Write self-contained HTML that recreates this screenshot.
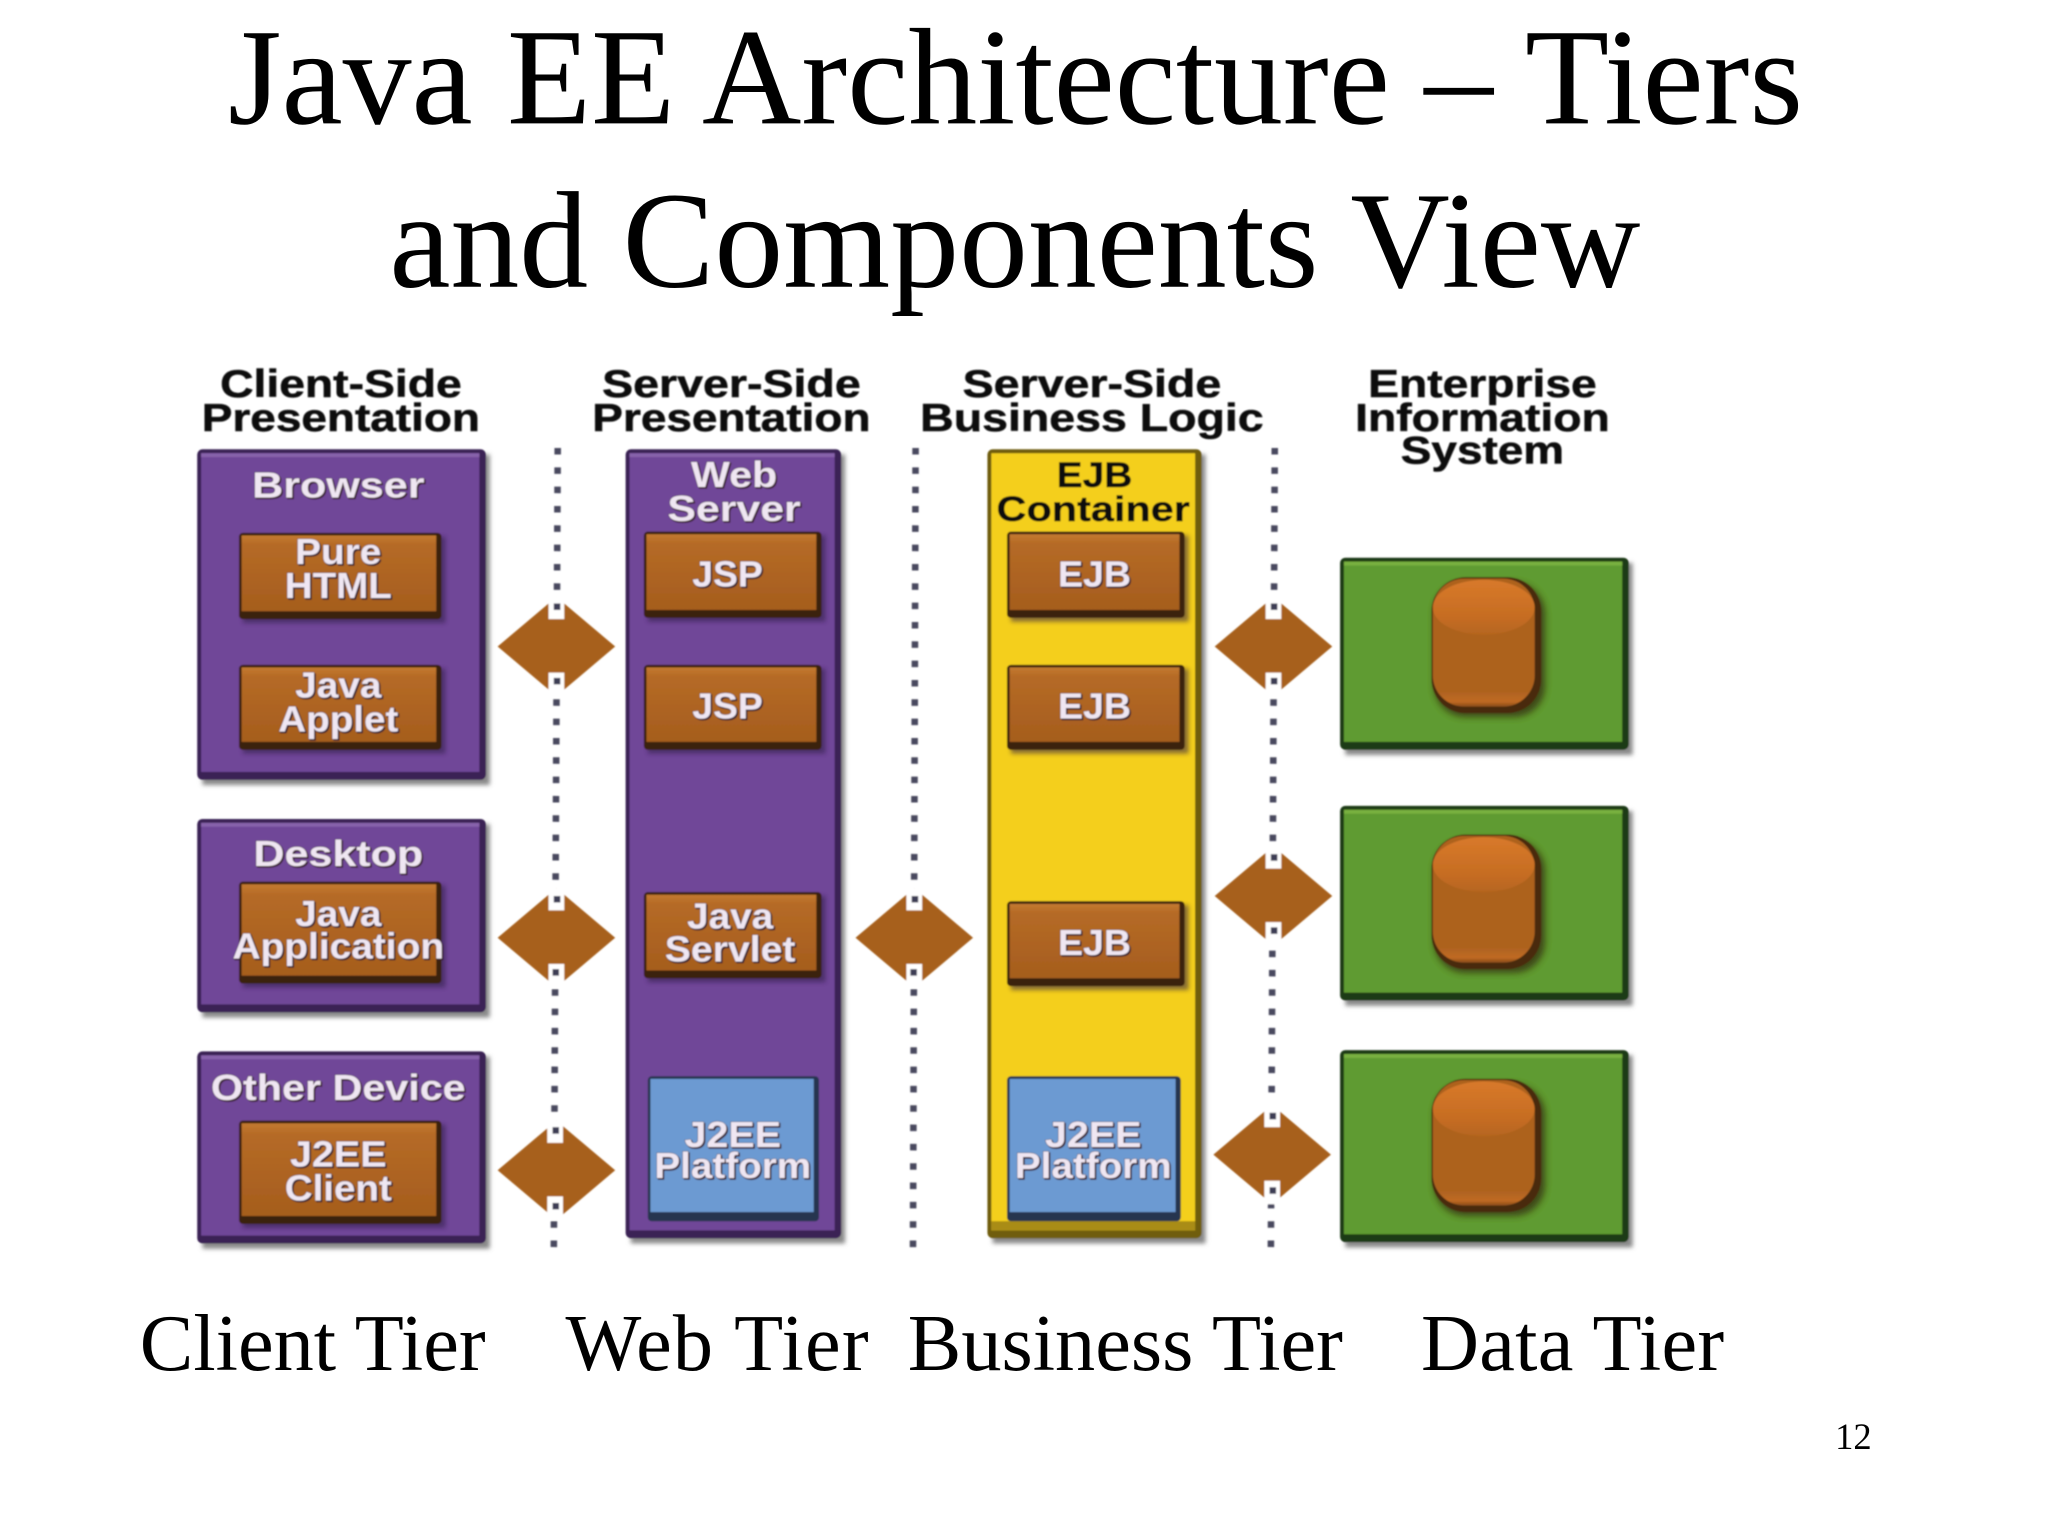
<!DOCTYPE html>
<html><head><meta charset="utf-8"><style>
html,body{margin:0;padding:0;background:#fff}
svg{display:block}
.t{font-family:"Liberation Serif",serif;fill:#000}
.s{font-family:"Liberation Sans",sans-serif;font-weight:bold;text-anchor:middle;font-size:28px}
.h{fill:#111;font-size:30px;stroke:#111;stroke-width:.4px}
.l{fill:#efe6f2;stroke:#3a2a30;stroke-width:.5px;paint-order:stroke;filter:drop-shadow(1px 1px 0 #3a2030)}
.k{fill:#111;font-size:27px;stroke:#111;stroke-width:.3px}
</style></head><body>
<svg width="2048" height="1536" viewBox="0 0 1568 1176" preserveAspectRatio="none" xmlns="http://www.w3.org/2000/svg">
<defs>
<filter id="b" x="-5%" y="-5%" width="110%" height="110%"><feGaussianBlur stdDeviation="0.7"/></filter>
<filter id="sh" x="-10%" y="-10%" width="120%" height="120%"><feGaussianBlur stdDeviation="1.6"/></filter>
<filter id="sf" x="-10%" y="-10%" width="120%" height="120%"><feGaussianBlur stdDeviation="2.5"/></filter>
<linearGradient id="bt" x1="0" x2="0" y1="0" y2="1"><stop offset="0" stop-color="#c47a30"/><stop offset=".12" stop-color="#b56a26"/><stop offset="1" stop-color="#a55d1d"/></linearGradient>
<linearGradient id="cy" x1="0" x2="0" y1="0" y2="1"><stop offset="0" stop-color="#ad621f"/><stop offset=".88" stop-color="#ad621f"/><stop offset=".96" stop-color="#c06a22"/><stop offset="1" stop-color="#8a4c18"/></linearGradient>
<linearGradient id="cap" x1="0" x2="0" y1="0" y2="1"><stop offset="0" stop-color="#d8792a"/><stop offset=".7" stop-color="#c56c22"/><stop offset="1" stop-color="#b5651f"/></linearGradient>
</defs>
<rect width="1568" height="1176" fill="#fff"/>
<text class="t" x="777.5" y="94.5" font-size="105.4" text-anchor="middle">Java EE Architecture – Tiers</text>
<text class="t" x="777" y="219.5" font-size="105.4" text-anchor="middle">and Components View</text>

<g filter="url(#b)">
<!-- shadows -->
<g fill="#888" filter="url(#sh)">
<rect x="155" y="348" width="220" height="253"/><rect x="155" y="631" width="220" height="148"/><rect x="155" y="809" width="220" height="147"/>
<rect x="483" y="348" width="164" height="604"/><rect x="760" y="348" width="163" height="604"/>
<rect x="1030" y="431" width="220" height="147"/><rect x="1030" y="621" width="220" height="149"/><rect x="1030" y="808" width="220" height="147"/>
</g>
<!-- purple -->
<g fill="#3a2355">
<rect x="151" y="344" width="221" height="253" rx="4"/><rect x="151" y="627" width="221" height="148" rx="4"/><rect x="151" y="805" width="221" height="147" rx="4"/><rect x="479" y="344" width="165" height="604" rx="4"/>
</g>
<g fill="#704698">
<rect x="154" y="347" width="213" height="244"/><rect x="154" y="630" width="213" height="139"/><rect x="154" y="808" width="213" height="138"/><rect x="482" y="347" width="157" height="595"/>
</g>
<g fill="#8762aa">
<rect x="154" y="347" width="213" height="3"/><rect x="154" y="630" width="213" height="3"/><rect x="154" y="808" width="213" height="3"/><rect x="482" y="347" width="157" height="3"/>
</g>
<!-- yellow -->
<rect x="756" y="344" width="164" height="604" rx="4" fill="#6f5d10"/>
<rect x="759" y="347" width="156" height="595" fill="#f4cf1b"/>
<rect x="759" y="935" width="156" height="7" fill="#a98c14"/>
<!-- green -->
<g fill="#1f3a12">
<rect x="1026" y="427" width="221" height="147" rx="4"/><rect x="1026" y="617" width="221" height="149" rx="4"/><rect x="1026" y="804" width="221" height="147" rx="4"/>
</g>
<g fill="#5f9b30">
<rect x="1029" y="430" width="213" height="138"/><rect x="1029" y="620" width="213" height="140"/><rect x="1029" y="807" width="213" height="138"/>
</g>
<g fill="#78b040">
<rect x="1029" y="430" width="213" height="3"/><rect x="1029" y="620" width="213" height="3"/><rect x="1029" y="807" width="213" height="3"/>
</g>
<!-- button shadow -->
<g fill="#2e1c45" opacity=".55" filter="url(#sh)">
<rect x="186" y="411" width="155" height="66"/><rect x="186" y="512" width="155" height="65"/><rect x="186" y="678" width="155" height="78"/><rect x="186" y="861" width="155" height="79"/>
<rect x="496" y="410" width="136" height="66"/><rect x="496" y="512" width="136" height="65"/><rect x="496" y="686" width="136" height="66"/>
<rect x="774" y="410" width="136" height="66"/><rect x="774" y="512" width="136" height="65"/><rect x="774" y="693" width="136" height="65"/>
</g>
<!-- orange buttons -->
<g fill="#3b2010">
<rect x="183" y="408" width="155" height="66" rx="3"/><rect x="183" y="509" width="155" height="65" rx="3"/><rect x="183" y="675" width="155" height="78" rx="3"/><rect x="183" y="858" width="155" height="79" rx="3"/>
<rect x="493" y="407" width="136" height="66" rx="3"/><rect x="493" y="509" width="136" height="65" rx="3"/><rect x="493" y="683" width="136" height="66" rx="3"/>
<rect x="771" y="407" width="136" height="66" rx="3"/><rect x="771" y="509" width="136" height="65" rx="3"/><rect x="771" y="690" width="136" height="65" rx="3"/>
</g>
<g fill="url(#bt)">
<rect x="185" y="410" width="149" height="58"/><rect x="185" y="511" width="149" height="57"/><rect x="185" y="677" width="149" height="70"/><rect x="185" y="860" width="149" height="71"/>
<rect x="495" y="409" width="130" height="58"/><rect x="495" y="511" width="130" height="57"/><rect x="495" y="685" width="130" height="58"/>
<rect x="773" y="409" width="130" height="58"/><rect x="773" y="511" width="130" height="57"/><rect x="773" y="692" width="130" height="57"/>
</g>
<!-- blue -->
<g fill="#26354f">
<rect x="496" y="824" width="131" height="111" rx="3"/><rect x="771" y="824" width="133" height="111" rx="3"/>
</g>
<g fill="#6c9ad2">
<rect x="498" y="826" width="125" height="102"/><rect x="773" y="826" width="127" height="102"/>
</g>
<!-- cylinders -->
<g fill="#33250d" opacity=".7" filter="url(#sf)">
<rect x="1098" y="446" width="85" height="103" rx="24"/><rect x="1098" y="643" width="85" height="102" rx="24"/><rect x="1098" y="830" width="85" height="101" rx="24"/>
</g>
<g fill="#4a2a10">
<rect x="1096" y="442" width="84" height="104" rx="26"/><rect x="1096" y="639" width="84" height="103" rx="26"/><rect x="1096" y="826" width="84" height="102" rx="26"/>
</g>
<g fill="url(#cy)">
<rect x="1097" y="443" width="78" height="98" rx="24"/><rect x="1097" y="640" width="78" height="97" rx="24"/><rect x="1097" y="827" width="78" height="96" rx="24"/>
</g>
<g fill="url(#cap)">
<ellipse cx="1136" cy="465" rx="39" ry="21"/><ellipse cx="1136" cy="662" rx="39" ry="21"/><ellipse cx="1136" cy="849" rx="39" ry="21"/>
</g>
<!-- dotted lines -->
<g stroke="#4a4a5e" stroke-width="5" stroke-dasharray="5 9.8" fill="none">
<line x1="427" y1="343" x2="424" y2="960"/><line x1="701" y1="343" x2="699" y2="960"/><line x1="976" y1="343" x2="973" y2="960"/>
</g>
<!-- diamonds -->
<g fill="#a7611f">
<polygon points="381,495 426,457 471,495 426,533"/><polygon points="381,718 426,680 471,718 426,756"/><polygon points="381,896 426,858 471,896 426,934"/>
<polygon points="655,718 700,680 745,718 700,756"/>
<polygon points="930,495 975,457 1020,495 975,533"/><polygon points="930,686 975,648 1020,686 975,724"/><polygon points="929,884 974,846 1019,884 974,922"/>
</g>
<g fill="#fff">
<rect x="420" y="457" width="12" height="17"/><rect x="420" y="515" width="12" height="18"/><rect x="420" y="680" width="12" height="17"/><rect x="420" y="738" width="12" height="18"/><rect x="419" y="858" width="12" height="17"/><rect x="419" y="916" width="12" height="18"/>
<rect x="694" y="680" width="12" height="17"/><rect x="694" y="738" width="12" height="18"/>
<rect x="969" y="457" width="12" height="17"/><rect x="969" y="515" width="12" height="18"/><rect x="969" y="648" width="12" height="17"/><rect x="969" y="706" width="12" height="18"/><rect x="968" y="846" width="12" height="17"/><rect x="968" y="904" width="12" height="18"/>
</g>
<g fill="#3c3c55">
<rect x="424" y="462" width="5" height="5"/><rect x="424" y="519" width="5" height="5"/><rect x="424" y="686" width="5" height="5"/><rect x="423" y="742" width="5" height="5"/><rect x="423" y="863" width="5" height="5"/><rect x="423" y="921" width="5" height="5"/>
<rect x="698" y="686" width="5" height="5"/><rect x="697" y="742" width="5" height="5"/>
<rect x="973" y="462" width="5" height="5"/><rect x="973" y="519" width="5" height="5"/><rect x="973" y="654" width="5" height="5"/><rect x="973" y="710" width="5" height="5"/><rect x="972" y="852" width="5" height="5"/><rect x="972" y="909" width="5" height="5"/>
</g>
<!-- headers -->
<g class="s">
<text class="s h" x="261" y="304" textLength="185" lengthAdjust="spacingAndGlyphs">Client-Side</text>
<text class="s h" x="261" y="330" textLength="213" lengthAdjust="spacingAndGlyphs">Presentation</text>
<text class="s h" x="560" y="304" textLength="198" lengthAdjust="spacingAndGlyphs">Server-Side</text>
<text class="s h" x="560" y="330" textLength="213" lengthAdjust="spacingAndGlyphs">Presentation</text>
<text class="s h" x="836" y="304" textLength="198" lengthAdjust="spacingAndGlyphs">Server-Side</text>
<text class="s h" x="836" y="330" textLength="263" lengthAdjust="spacingAndGlyphs">Business Logic</text>
<text class="s h" x="1135" y="304" textLength="175" lengthAdjust="spacingAndGlyphs">Enterprise</text>
<text class="s h" x="1135" y="330" textLength="195" lengthAdjust="spacingAndGlyphs">Information</text>
<text class="s h" x="1135" y="355" textLength="125" lengthAdjust="spacingAndGlyphs">System</text>
<!-- labels -->
<text class="s l" x="259" y="381" textLength="132" lengthAdjust="spacingAndGlyphs">Browser</text>
<text class="s l" x="259" y="432" textLength="66" lengthAdjust="spacingAndGlyphs">Pure</text>
<text class="s l" x="259" y="458" textLength="82" lengthAdjust="spacingAndGlyphs">HTML</text>
<text class="s l" x="259" y="534" textLength="66" lengthAdjust="spacingAndGlyphs">Java</text>
<text class="s l" x="259" y="560" textLength="92" lengthAdjust="spacingAndGlyphs">Applet</text>
<text class="s l" x="259" y="663" textLength="130" lengthAdjust="spacingAndGlyphs">Desktop</text>
<text class="s l" x="259" y="709" textLength="66" lengthAdjust="spacingAndGlyphs">Java</text>
<text class="s l" x="259" y="734" textLength="162" lengthAdjust="spacingAndGlyphs">Application</text>
<text class="s l" x="259" y="842" textLength="195" lengthAdjust="spacingAndGlyphs">Other Device</text>
<text class="s l" x="259" y="893" textLength="74" lengthAdjust="spacingAndGlyphs">J2EE</text>
<text class="s l" x="259" y="919" textLength="82" lengthAdjust="spacingAndGlyphs">Client</text>
<text class="s l" x="562" y="373" textLength="66" lengthAdjust="spacingAndGlyphs">Web</text>
<text class="s l" x="562" y="399" textLength="102" lengthAdjust="spacingAndGlyphs">Server</text>
<text class="s l" x="557" y="449" textLength="54" lengthAdjust="spacingAndGlyphs">JSP</text>
<text class="s l" x="557" y="550" textLength="54" lengthAdjust="spacingAndGlyphs">JSP</text>
<text class="s l" x="559" y="711" textLength="66" lengthAdjust="spacingAndGlyphs">Java</text>
<text class="s l" x="559" y="736" textLength="100" lengthAdjust="spacingAndGlyphs">Servlet</text>
<text class="s l" x="561" y="878" textLength="74" lengthAdjust="spacingAndGlyphs">J2EE</text>
<text class="s l" x="561" y="902" textLength="120" lengthAdjust="spacingAndGlyphs">Platform</text>
<text class="s k" x="838" y="373" textLength="58" lengthAdjust="spacingAndGlyphs">EJB</text>
<text class="s k" x="837" y="399" textLength="148" lengthAdjust="spacingAndGlyphs">Container</text>
<text class="s l" x="838" y="449" textLength="56" lengthAdjust="spacingAndGlyphs">EJB</text>
<text class="s l" x="838" y="550" textLength="56" lengthAdjust="spacingAndGlyphs">EJB</text>
<text class="s l" x="838" y="731" textLength="56" lengthAdjust="spacingAndGlyphs">EJB</text>
<text class="s l" x="837" y="878" textLength="74" lengthAdjust="spacingAndGlyphs">J2EE</text>
<text class="s l" x="837" y="902" textLength="120" lengthAdjust="spacingAndGlyphs">Platform</text>
</g>
</g>

<g class="t" font-size="61.5">
<text x="107" y="1049">Client Tier</text>
<text x="433" y="1049" textLength="232" lengthAdjust="spacing">Web Tier</text>
<text x="695" y="1049">Business Tier</text>
<text x="1088" y="1049" textLength="232" lengthAdjust="spacing">Data Tier</text>
</g>
<text class="t" x="1405" y="1109.5" font-size="28">12</text>
</svg>
</body></html>
